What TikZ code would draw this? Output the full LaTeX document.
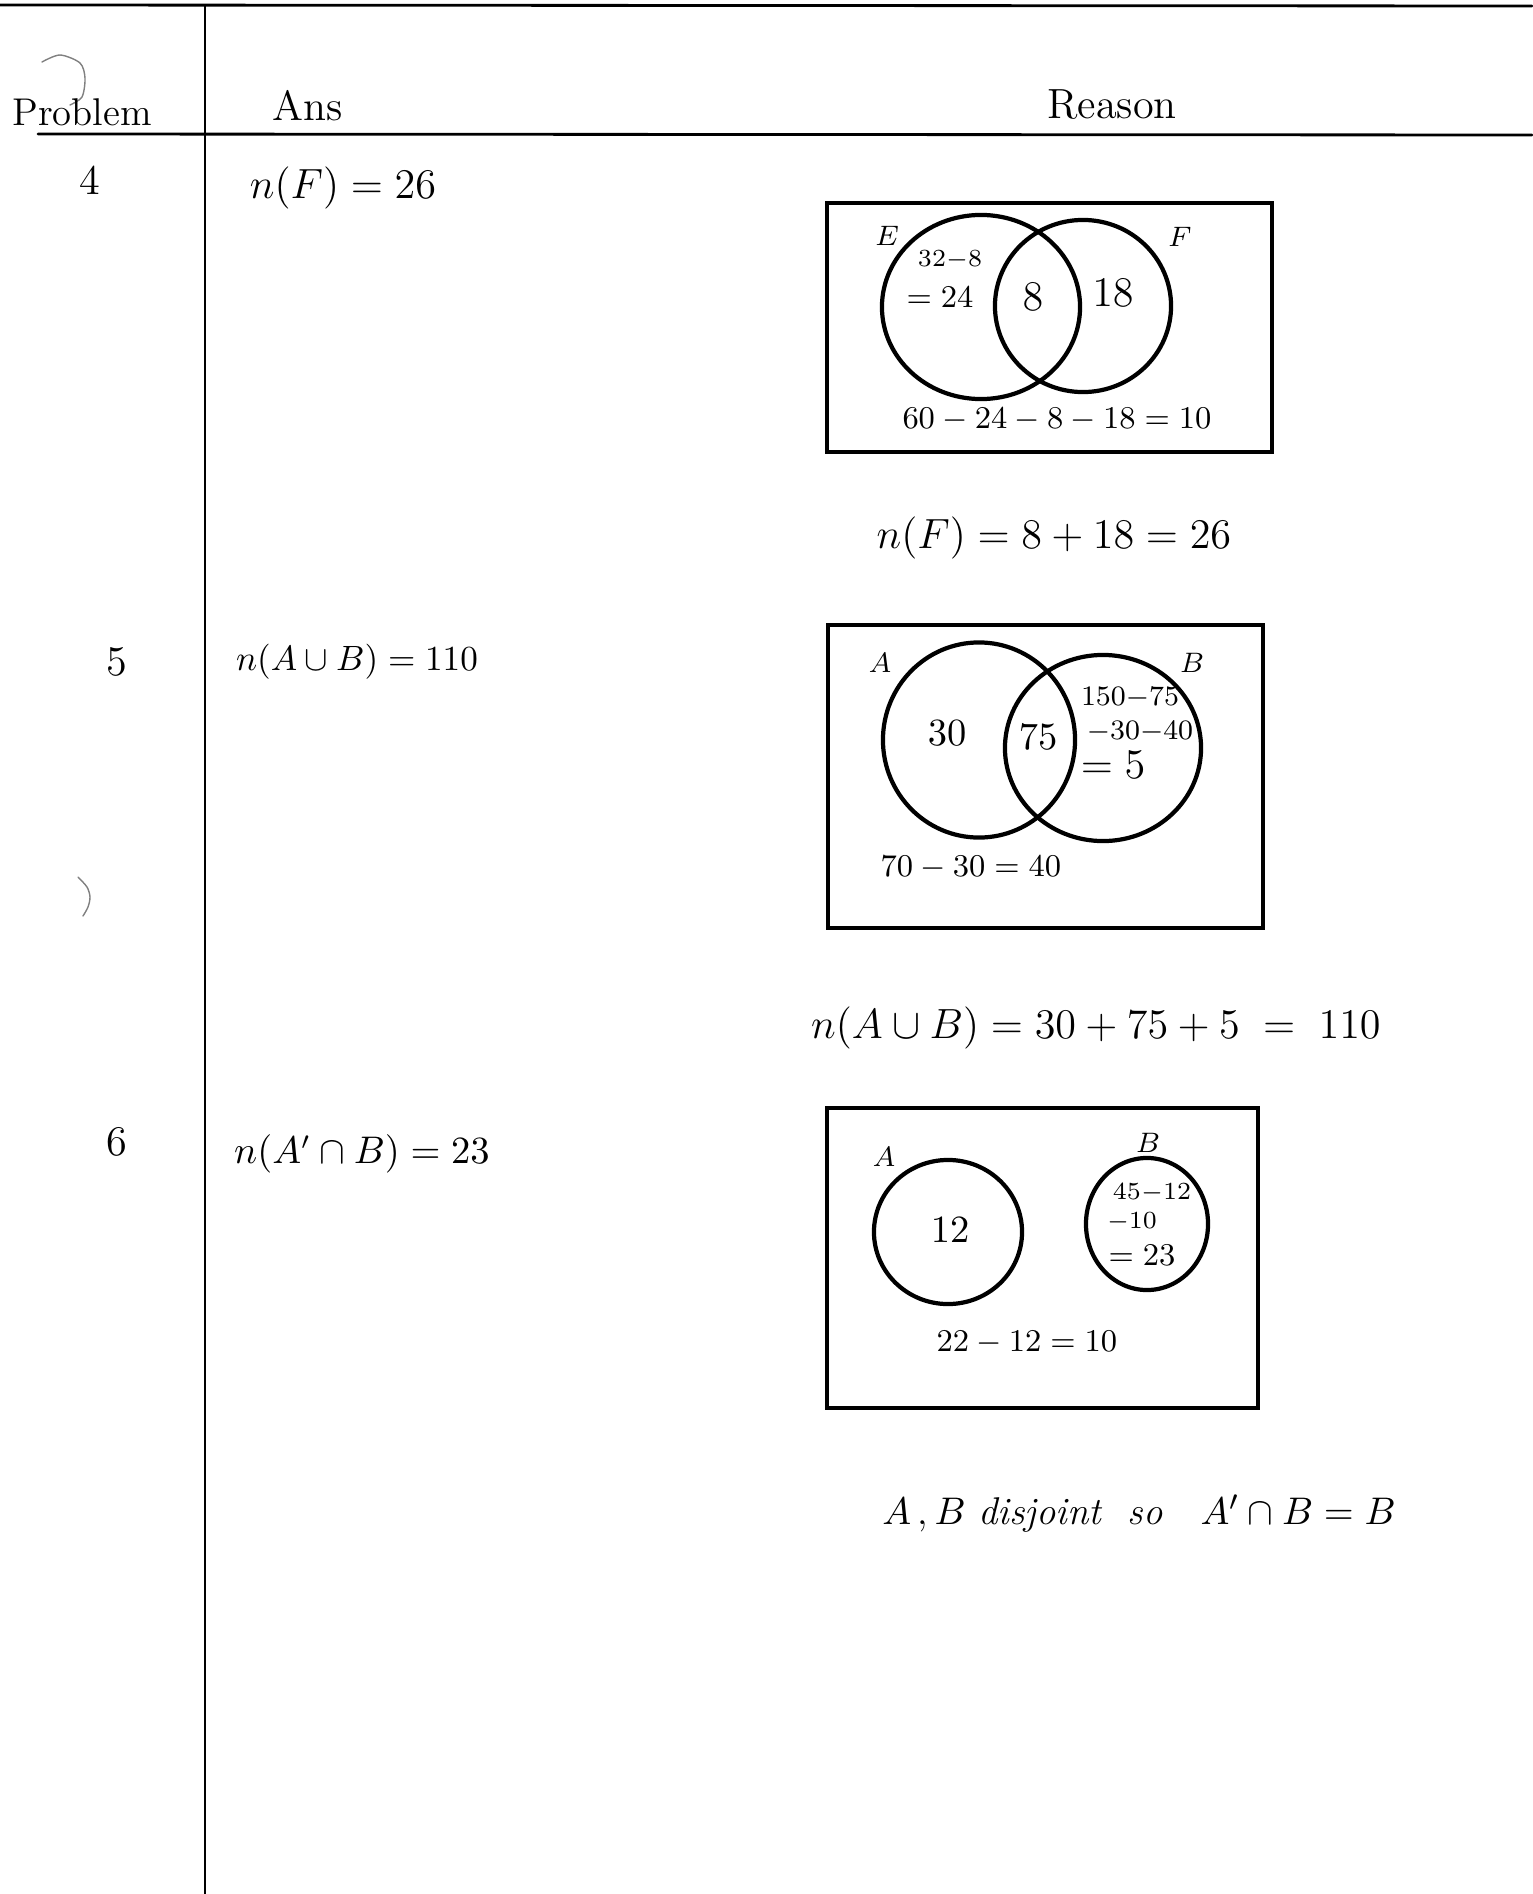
\documentclass[tikz,border=0pt]{standalone}
\usepackage{amsmath}
\usepackage{tikz}
\usetikzlibrary{shapes.geometric}
\usetikzlibrary{positioning,calc}

\begin{document}
\begin{tikzpicture}[x=0.01cm, y=-0.01cm, line cap=round,
	rule/.style={line width=0.8pt},
	frame/.style={rectangle, draw, line width=1pt, inner sep=0pt},
	set/.style={ellipse, draw, line width=1.2pt, inner sep=0pt},
	head/.style={font=\fontsize{12}{14}\selectfont},
	ans/.style={font=\fontsize{11.5}{14}\selectfont},
	num/.style={font=\fontsize{12}{14}\selectfont},
	note/.style={font=\fontsize{9}{11}\selectfont},
	tiny/.style={font=\fontsize{7.5}{9}\selectfont},
	smudge/.style={gray, line width=0.4pt}]
	\useasboundingbox (0,0) rectangle (1532,1894);

	% Table

	\draw[rule] (0,5) -- (1532,6);
	\draw[rule] (205,6) -- (205,1894);
	\draw[rule] (38,134) -- (1532,135);
	\draw[smudge] plot[smooth] coordinates {(42,62) (60,55) (80,63) (85,78) (82,97) (70,105)};
	\draw[smudge] plot[smooth] coordinates {(78,877) (87,887) (90,897) (88,907) (83,916)};

	\node[head, font=\fontsize{11}{13}\selectfont] (hprob) at (82,112) {Problem};
	\node[head] (hans) at (308,106) {Ans};
	\node[head] (hreason) at (1112,105) {Reason};

	% Problem 4

	\node[head] (p4) at (90,180) {4};
	\node[ans] (a4) at (343,188) {$n(F) = 26$};
	\node[frame, minimum width=4.45cm, minimum height=2.49cm] (box4) at (1049.5,327.5) {};
	\node[set, minimum width=1.98cm, minimum height=1.84cm] (setE) at (981,307) {};
	\node[set, minimum width=1.76cm, minimum height=1.72cm] (setF) at (1083,306) {};
	\node[note, font=\fontsize{8}{10}\selectfont] (lblE) at (887,236) {$E$};
	\node[note, font=\fontsize{8}{10}\selectfont] (lblF) at (1180,237) {$F$};
	\node[tiny] (e1) at (950,260) {$32{-}8$};
	\node[note] (e2) at (940,297) {$=24$};
	\node[num] (ef) at (1033,297) {$8$};
	\node[num] (f1) at (1113,293) {$18$};
	\node[note] (out4) at (1057,420) {$60 - 24 - 8 - 18 = 10$};
	\node[num] (r4) at (1054,538) {$n(F) = 8 + 18 = 26$};

	% Problem 5

	\node[head] (p5) at (117,662) {5};
	\node[ans, font=\fontsize{10}{12}\selectfont] (a5) at (357,662) {$n(A \cup B) = 110$};
	\node[frame, minimum width=4.35cm, minimum height=3.03cm] (box5) at (1045.5,776.5) {};
	\node[set, minimum width=1.92cm, minimum height=1.95cm] (setA) at (979,740) {};
	\node[set, minimum width=1.96cm, minimum height=1.86cm] (setB) at (1103,748) {};
	\node[note, font=\fontsize{8}{10}\selectfont] (lblA) at (880,663) {$A$};
	\node[note, font=\fontsize{8}{10}\selectfont] (lblB) at (1192,663) {$B$};
	\node[num, font=\fontsize{10.5}{12}\selectfont] (a1) at (947,733) {$30$};
	\node[num, font=\fontsize{10.5}{12}\selectfont] (ab) at (1038,737) {$75$};
	\node[tiny, font=\fontsize{8}{10}\selectfont] (b1) at (1130,698) {$150{-}75$};
	\node[tiny, font=\fontsize{8}{10}\selectfont] (b2) at (1140,732) {$-30{-}40$};
	\node[num, font=\fontsize{13}{15}\selectfont] (b3) at (1113,765) {$=5$};
	\node[note] (out5) at (971,868) {$70 - 30 = 40$};
	\node[num, font=\fontsize{11.5}{14}\selectfont] (r5) at (1096,1028) {$n(A \cup B) = 30 + 75 + 5 \;=\; 110$};

	% Problem 6

	\node[head] (p6) at (117,1142) {6};
	\node[ans, font=\fontsize{10.5}{13}\selectfont] (a6) at (362,1154) {$n(A' \cap B) = 23$};
	\node[frame, minimum width=4.31cm, minimum height=3.00cm] (box6) at (1042.5,1258) {};
	\node[set, minimum width=1.48cm, minimum height=1.44cm] (setA6) at (948,1232) {};
	\node[set, minimum width=1.22cm, minimum height=1.32cm] (setB6) at (1147,1224) {};
	\node[note, font=\fontsize{8}{10}\selectfont] (lblA6) at (884,1157) {$A$};
	\node[note, font=\fontsize{8}{10}\selectfont] (lblB6) at (1148,1143) {$B$};
	\node[num, font=\fontsize{11}{13}\selectfont] (a61) at (950,1230) {$12$};
	\node[tiny] (b61) at (1152,1193) {$45{-}12$};
	\node[tiny] (b62) at (1132,1222) {$-10$};
	\node[note] (b63) at (1142,1255) {$=23$};
	\node[note, font=\fontsize{9.5}{11}\selectfont] (out6) at (1027,1343) {$22 - 12 = 10$};
	\node[ans, font=\fontsize{11}{13}\selectfont] (r6) at (1139,1514) {$A$\,,\,$B$ \textit{disjoint} \ \textit{so} \ \ $A' \cap B = B$};
\end{tikzpicture}
\end{document}
